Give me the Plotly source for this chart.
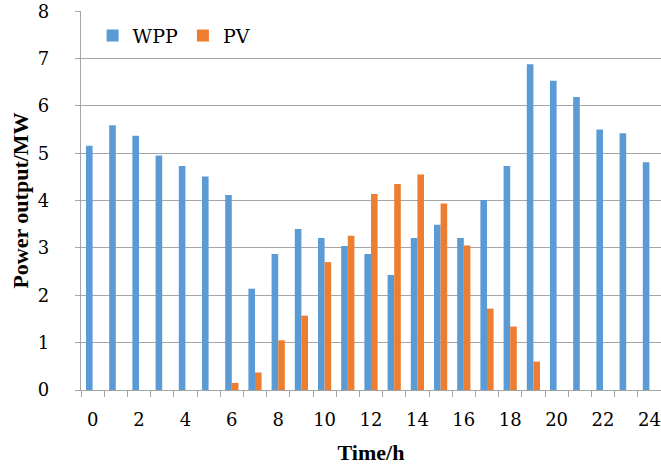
import plotly.graph_objects as go

hours = list(range(25))
wpp = [5.16, 5.59, 5.37, 4.95, 4.73, 4.51, 4.12, 2.14, 2.87, 3.40,
       3.21, 3.04, 2.87, 2.43, 3.21, 3.49, 3.21, 4.01, 4.73, 6.88,
       6.53, 6.19, 5.50, 5.42, 4.81]
pv = [0, 0, 0, 0, 0, 0, 0.15, 0.37, 1.05, 1.57,
      2.70, 3.26, 4.14, 4.35, 4.55, 3.94, 3.05, 1.72, 1.34, 0.60,
      0, 0, 0, 0, 0]
xtick_vals = list(range(0, 25, 2))
ytick_vals = list(range(0, 9))

REG = "DejaVu Serif"
BOLD = "Liberation Serif"
grid_col = "#a6a6a6"

fig = go.Figure()
fig.add_trace(go.Bar(x=hours, y=wpp, name="WPP", marker_color="#5B9BD5",
                     marker_line_width=0))
fig.add_trace(go.Bar(x=hours, y=pv, name="PV", marker_color="#ED7D31",
                     marker_line_width=0))

fig.update_layout(
    width=661, height=470,
    margin=dict(l=81, r=0, t=8, b=80),
    barmode="group", bargap=0.43, bargroupgap=0,
    plot_bgcolor="white", paper_bgcolor="white",
    font=dict(family=REG, size=18, color="black"),
    legend=dict(orientation="h", x=0.02, y=0.985, xanchor="left", yanchor="top",
                font=dict(family=REG, size=19, color="black"),
                bgcolor="rgba(0,0,0,0)", itemwidth=30, tracegroupgap=0),
    showlegend=True,
)
fig.update_xaxes(
    range=[-0.5, 24.5], tickmode="array", tickvals=xtick_vals,
    ticktext=[str(v) for v in xtick_vals], ticks="", showgrid=False,
    tickfont=dict(family=REG, size=18, color="black"),
    ticklabeloverflow="allow",
    showline=True, linecolor=grid_col, linewidth=1.3,
    ticklabelstandoff=13,
    minor=dict(tickmode="linear", tick0=-0.5, dtick=1, ticks="outside",
               ticklen=6, tickcolor=grid_col, tickwidth=1.3, showgrid=False),
    title=dict(text="Time/h", font=dict(family=BOLD, size=22, color="black", weight="bold"),
               standoff=15),
    zeroline=False,
)
fig.update_yaxes(
    range=[0, 8.004], tickmode="array", tickvals=ytick_vals,
    ticks="outside", ticklen=5, tickcolor=grid_col, tickwidth=1.3,
    tickfont=dict(family=REG, size=18, color="black"),
    ticklabeloverflow="allow",
    showgrid=True, gridcolor=grid_col, gridwidth=1.3,
    showline=True, linecolor=grid_col, linewidth=1.3,
    ticklabelstandoff=22,
    title=dict(text="Power output/MW", font=dict(family=BOLD, size=22, color="black", weight="bold"),
               standoff=3),
    zeroline=False,
)

fig.write_html("out.html")
